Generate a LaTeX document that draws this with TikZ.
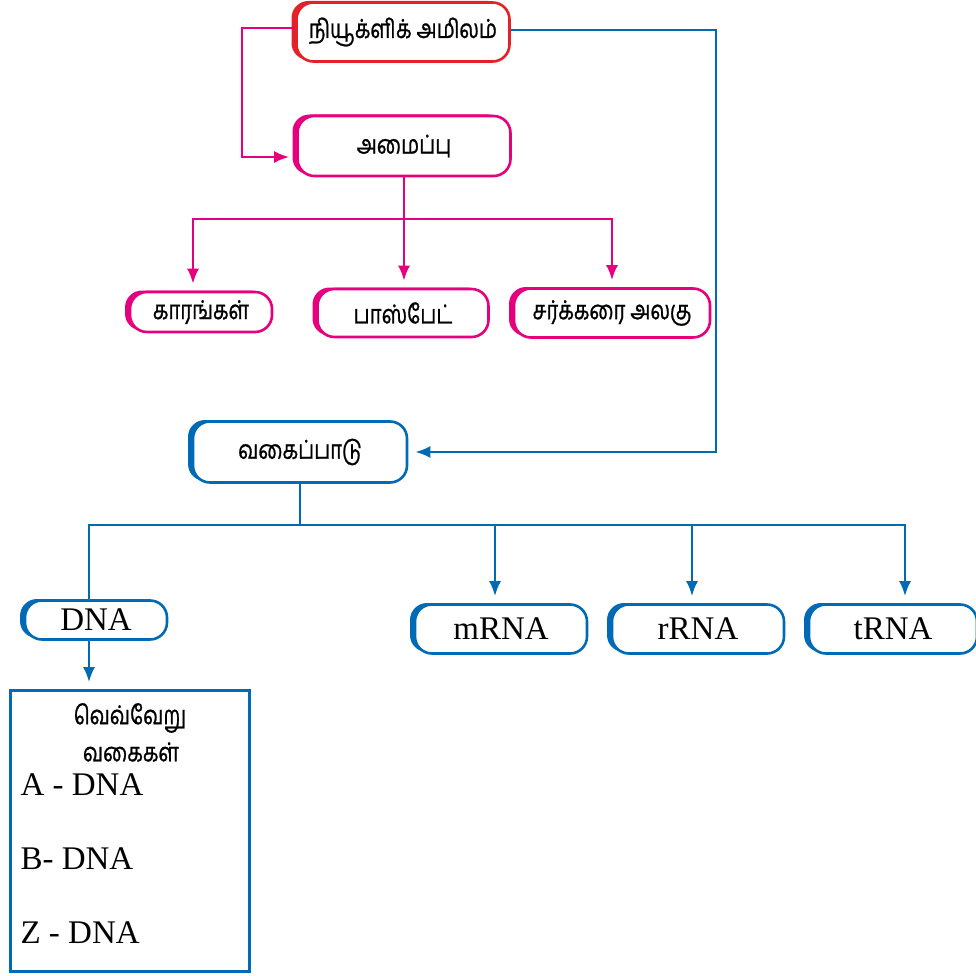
\documentclass[tikz,border=0pt]{standalone}
\usepackage{fontspec}
\setmainfont{Liberation Serif}
\newfontfamily\tamil[Script=Tamil,FakeBold=0.9,FakeStretch=0.78]{Hind Madurai}
\usepackage{tikz}
\usetikzlibrary{arrows.meta,shadows,calc}

\definecolor{nucred}{RGB}{228,32,40}
\definecolor{strmag}{RGB}{230,0,126}
\definecolor{clsblue}{RGB}{0,106,180}

\tikzset{
    pill/.style={draw=#1, line width=2.6pt, fill=white, rounded corners=17pt,
        general shadow={fill=#1, shadow xshift=-5pt, shadow yshift=1.5pt}},
    tamtext/.style={font=\tamil\fontsize{26}{30}\selectfont},
    romtext/.style={font=\fontsize{33}{38}\selectfont},
    link/.style={draw=#1, line width=2.4pt},
    linkarr/.style={link=#1, -{Latex[length=15pt,width=12pt]}, shorten >=7pt}
}

\begin{document}
\begin{tikzpicture}[x=1pt,y=-1pt]
    \useasboundingbox (0,0) rectangle (975,976);
    % top: nucleic acid and its structure
    \node[pill=nucred, tamtext, minimum width=213, minimum height=59] (nuc) at (403,32) {நியூக்ளிக் அமிலம்};
    \node[pill=strmag, tamtext, minimum width=213, minimum height=60] (struct) at (404,146) {அமைப்பு};
    \node[pill=strmag, tamtext, minimum width=142, minimum height=40] (bases) at (201,312) {காரங்கள்};
    \node[pill=strmag, tamtext, minimum width=171, minimum height=48] (phos) at (403,313) {பாஸ்பேட்};
    \node[pill=strmag, tamtext, minimum width=196, minimum height=49] (sugar) at (612,313) {சர்க்கரை அலகு};
    % classification
    \node[pill=clsblue, tamtext, minimum width=214, minimum height=61] (class) at (300,452) {வகைப்பாடு};
    \node[pill=clsblue, romtext, minimum width=142, minimum height=39] (dna) at (96,620) {DNA};
    \node[pill=clsblue, romtext, minimum width=172, minimum height=49] (mrna) at (501,629) {mRNA};
    \node[pill=clsblue, romtext, minimum width=172, minimum height=49] (rrna) at (698,629) {rRNA};
    \node[pill=clsblue, romtext, minimum width=168, minimum height=49] (trna) at (893,629) {tRNA};
    % DNA types box
    \node[draw=clsblue, line width=2.6pt, minimum width=239, minimum height=281] (types) at (130,831) {};
    \node[tamtext] (tyA) at (130,718) {வெவ்வேறு};
    \node[tamtext] (tyB) at (131,752) {வகைகள்};
    \node[romtext, anchor=west] (adna) at (17,785) {A - DNA};
    \node[romtext, anchor=west] (bdna) at (17,859) {B- DNA};
    \node[romtext, anchor=west] (zdna) at (17,933) {Z - DNA};

    % connectors
    \draw[linkarr=strmag] ([yshift=4pt]nuc.west) -- ++(-53,0) |- ([yshift=-11pt]struct.west);
    \draw[linkarr=clsblue] ([yshift=2pt]nuc.east) -- ++(205,0) |- (class.east);
    \draw[link=strmag] (struct.south) -- ++(0,42) coordinate (sj);
    \draw[linkarr=strmag] (sj) -| ([xshift=-8pt]bases.north);
    \draw[linkarr=strmag] (sj) -- (sj |- phos.north);
    \draw[linkarr=strmag] (sj) -| (sugar.north);
    \draw[link=clsblue] (class.south) -- ++(0,41) coordinate (cj);
    \draw[link=clsblue] (cj) -| ([xshift=-7pt]dna.north);
    \draw[linkarr=clsblue] (cj) -| ([xshift=-6pt]mrna.north);
    \draw[linkarr=clsblue] (cj) -| ([xshift=-6pt]rrna.north);
    \draw[linkarr=clsblue] (cj) -| ([xshift=12pt]trna.north);
    \draw[linkarr=clsblue] ([xshift=-7pt]dna.south) -- ([xshift=-7pt]dna.south |- types.north);
\end{tikzpicture}
\end{document}
